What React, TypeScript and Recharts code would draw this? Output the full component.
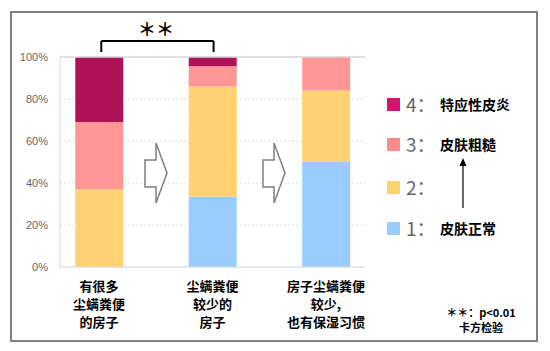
import React from 'react';
import { ComposedChart, Bar, XAxis, YAxis, CartesianGrid, ReferenceLine } from 'recharts';

const categories = [
  ['有很多', '尘螨粪便', '的房子'],
  ['尘螨粪便', '较少的', '房子'],
  ['房子尘螨粪便', '较少,', '也有保湿习惯'],
];
const score1 = [0, 33.5, 50];
const score2 = [37, 52.5, 34];
const score3 = [32, 9.6, 16];
const score4 = [31, 4.4, 0];
const yTicks = [0, 20, 40, 60, 80, 100];

const legendItems = [
  { num: '4', text: '特应性皮炎', color: '#D6126E' },
  { num: '3', text: '皮肤粗糙', color: '#FF8A8A' },
  { num: '2', text: '', color: '#FFD172' },
  { num: '1', text: '皮肤正常', color: '#99CCFF' },
];

const data = categories.map((c, i) => ({
  idx: i,
  s1: score1[i],
  s2: score2[i],
  s3: score3[i],
  s4: score4[i],
}));

const CJK = '"Noto Sans CJK SC", "Noto Sans", sans-serif';

const XTick = (props: any) => {
  const { x, y, payload } = props;
  const lines = categories[payload.value] || [];
  return (
    <g>
      {lines.map((l, k) => (
        <text key={k} x={x} y={y + 16 + k * 18} textAnchor="middle" fontFamily={CJK} fontWeight="bold" fontSize={13} fill="#000">
          {l}
        </text>
      ))}
    </g>
  );
};

const LegendBox = () => (
  <div style={{ position: 'absolute', left: 380, top: 90, width: 160, height: 150 }}>
    {legendItems.map((it, i) => {
      const cy = [14, 54, 97, 138][i];
      return (
        <div key={i} style={{ position: 'absolute', left: 0, top: cy - 10, height: 20, display: 'flex', alignItems: 'center', whiteSpace: 'nowrap' }}>
          <div style={{ width: 13, height: 13, background: it.color, marginLeft: 7 }} />
          <span style={{ fontFamily: CJK, fontSize: 19, color: '#666', marginLeft: 6, width: 34, lineHeight: '20px' }}>{it.num}：</span>
          <span style={{ fontFamily: CJK, fontSize: 14, fontWeight: 'bold', color: '#000', lineHeight: '20px' }}>{it.text}</span>
        </div>
      );
    })}
  </div>
);

const Arrow = ({ x }: { x: number }) => (
  <path
    d={`M${x} 160 L${x + 11} 160 L${x + 11} 143 L${x + 22} 173 L${x + 11} 203 L${x + 11} 187 L${x} 187 Z`}
    fill="#fff"
    stroke="#7f7f7f"
    strokeWidth={1.5}
  />
);

export default function App() {
  return (
    <div style={{ position: 'absolute', left: 0, top: 0, width: 550, height: 351, background: '#fff' }}>
      <svg width={550} height={351} style={{ position: 'absolute', left: 0, top: 0 }}>
        <rect x={11} y={12} width={526} height={329} fill="#fff" stroke="#808080" strokeWidth={2} />
      </svg>
      <div style={{ position: 'absolute', left: 0, top: 0 }}>
        <ComposedChart width={550} height={351} data={data} margin={{ top: 57, right: 185, bottom: 0, left: 10 }}>
          <CartesianGrid vertical={false} stroke="#e0e0e0" strokeDasharray="2 2" />
          <ReferenceLine y={100} stroke="#d9d9d9" strokeWidth={1.5} />
          <XAxis
            type="number"
            dataKey="idx"
            domain={[-0.3436, 2.344]}
            ticks={[0, 1, 2]}
            tick={<XTick />}
            tickLine={false}
            axisLine={{ stroke: '#d9d9d9' }}
            interval={0}
            height={84}
          />
          <YAxis
            width={50}
            domain={[0, 100]}
            ticks={yTicks}
            tickFormatter={(v: number) => `${v}%`}
            tick={{ fill: '#666', fontSize: 11, fontFamily: '"Liberation Sans", sans-serif' }}
            tickLine={false}
            tickSize={0}
            tickMargin={12}
            axisLine={{ stroke: '#d9d9d9' }}
          />
          <Bar dataKey="s1" stackId="a" fill="#99CCFF" barSize={48} isAnimationActive={false} />
          <Bar dataKey="s2" stackId="a" fill="#FFD172" barSize={48} isAnimationActive={false} />
          <Bar dataKey="s3" stackId="a" fill="#FF9696" barSize={48} isAnimationActive={false} />
          <Bar dataKey="s4" stackId="a" fill="#B01258" barSize={48} isAnimationActive={false} />
          <ReferenceLine segment={[{ x: 0.02, y: 102.4 }, { x: 0.02, y: 107.6 }]} stroke="#000" strokeWidth={2} ifOverflow="visible" />
          <ReferenceLine segment={[{ x: 0.02, y: 107.6 }, { x: 1.01, y: 107.6 }]} stroke="#000" strokeWidth={2} ifOverflow="visible" />
          <ReferenceLine segment={[{ x: 1.01, y: 107.6 }, { x: 1.01, y: 102.4 }]} stroke="#000" strokeWidth={2} ifOverflow="visible" />
        </ComposedChart>
      </div>
      <LegendBox />
      <svg width={550} height={351} style={{ position: 'absolute', left: 0, top: 0, pointerEvents: 'none' }}>
        <Arrow x={145} />
        <Arrow x={263} />
        <text x={156} y={36} textAnchor="middle" fontFamily={CJK} fontWeight="bold" fontSize={18} fill="#000">＊＊</text>
        <line x1={463} y1={208} x2={463} y2={164} stroke="#000" strokeWidth={1.2} />
        <path d="M459.5 166 L463 158 L466.5 166 Z" fill="#000" />
        <text x={481} y={317} textAnchor="middle" fontFamily={CJK} fontWeight="bold" fontSize={11} fill="#000">＊＊：p&lt;0.01</text>
        <text x={481} y={332} textAnchor="middle" fontFamily={CJK} fontWeight="bold" fontSize={11} fill="#000">卡方检验</text>
      </svg>
    </div>
  );
}
